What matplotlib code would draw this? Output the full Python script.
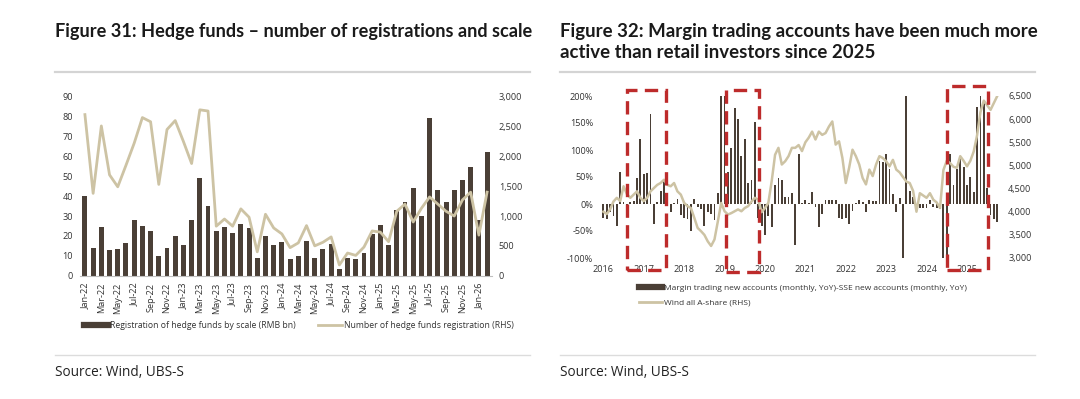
import matplotlib
matplotlib.use('Agg')
import matplotlib.pyplot as plt
from matplotlib.lines import Line2D
from matplotlib.patches import Rectangle
from matplotlib.ticker import FuncFormatter
import numpy as np
import pandas as pd

plt.rcParams['font.family'] = ['Open Sans', 'DejaVu Sans']

# Figure 31 data (monthly, Jan-22 .. Feb-26)
hf_months = pd.date_range('2022-01-01', periods=50, freq='MS')
hf_scale = [40, 14, 24.5, 13, 13.5, 16.5, 28, 25, 22.5, 10,
            14, 20, 15.5, 28, 49, 35, 22.5, 24.5, 21.5, 26,
            24, 9, 20, 15.5, 17, 8.5, 10, 17.5, 9, 13.5,
            16, 3.5, 9, 8.5, 11.5, 21, 25.5, 15.5, 33, 37,
            44, 30, 79.5, 43, 37, 43, 48, 54.5, 28, 62]
hf_count = [2700, 1380, 2510, 1690, 1490, 1850, 2220, 2650, 2580, 1530,
            2450, 2600, 2250, 1880, 2780, 2760, 830, 950, 830, 1120,
            980, 400, 1030, 800, 700, 470, 550, 840, 500, 560,
            650, 180, 380, 340, 480, 750, 730, 570, 1080, 1200,
            900, 1130, 1320, 1200, 1080, 1000, 1270, 1400, 680, 1400]

# Figure 32 data (monthly from Jan-2016)
margin_yoy = [-25, -27, -15, -22, -40, 60, 3, -20, 3, 5,
              48, 120, 55, 57, 167, -37, 4, 25, 42, 10,
              -15, 1, 10, -20, -25, -27, -50, 10, -5, -10,
              -40, -15, -18, -30, 20, 200, 200, 60, 103, 178,
              158, 88, 120, 38, 45, 152, -25, -40, -58, -22,
              -42, 35, 48, 45, 13, 13, 20, -75, 92, 1,
              8, 1, 23, -5, -42, -18, 7, 7, 7, 7,
              -25, -27, -25, -37, -13, 2, 8, 3, -15, 7,
              5, 5, 80, 78, 92, 65, 18, -15, 12, -100,
              200, 25, 13, -10, -8, -8, -8, 8, -5, -8,
              -10, -100, -100, 92, 35, 65, 85, 68, 35, 50,
              22, 180, 200, 192, 30, -20, -28, -33]
wind_a = [4000, 3950, 4050, 4220, 4300, 4230, 4550, 4380, 4300, 4370,
          4440, 4300, 4230, 4300, 4440, 4510, 4580, 4620, 4690, 4580,
          4550, 4620, 4440, 4370, 4190, 4120, 4080, 3870, 3650, 3580,
          3500, 3360, 3260, 3400, 3790, 4190, 4010, 3940, 3970, 4010,
          4050, 4010, 4080, 4120, 4220, 4300, 4260, 3990, 4080, 4190,
          4660, 5230, 5380, 5020, 5090, 5200, 5380, 5380, 5440, 5310,
          5500, 5600, 5730, 5560, 5730, 5660, 5700, 5840, 5950, 5450,
          5520, 5160, 4620, 4950, 5340, 5200, 5020, 4730, 4590, 4910,
          4770, 5020, 5200, 5160, 5090, 4980, 5120, 4910, 4850, 4750,
          4650, 4620, 4450, 4000, 4400, 4350, 4300, 4400, 4260, 4200,
          4080, 4900, 5100, 5050, 4970, 4950, 5200, 5100, 4980, 5100,
          5300, 5650, 6150, 6400, 6300, 6200, 6350, 6500]
years = ['2016', '2017', '2018', '2019', '2020', '2021', '2022', '2023', '2024', '2025']
# highlighted periods (month index start, end)
boxes = [(7.0, 18.6, -123, 211), (36.5, 46.1, -125, 211), (102.0, 114.2, -123, 219)]

bar_c = '#4a3f36'
line_c = '#cdc3a4'
txt_c = '#333333'
W, H = 1080, 399

fig = plt.figure(figsize=(10.8, 3.99), dpi=100)
renderer = fig.canvas.get_renderer()


def fit_title(x, y, s, width_px):
    # squeeze the bold title to the width it takes in the original
    t = fig.text(x / W, 1 - y / H, s, family=['Lato', 'DejaVu Sans'], weight='bold',
                 size=11, va='center', color='#1a1a1a')
    w = t.get_window_extent(renderer).width
    t.set_size(11 * width_px / w)
    return t


fit_title(55, 32, 'Figure 31: Hedge funds \u2013 number of registrations and scale', 475)
t32 = fit_title(560, 32, 'Figure 32: Margin trading accounts have been much more', 475)
fig.text(560 / W, 1 - 52 / H, 'active than retail investors since 2025',
         family=['Lato', 'DejaVu Sans'], weight='bold', size=t32.get_size(),
         va='center', color='#1a1a1a')
for x0, x1 in [(55, 530), (560, 1035)]:
    fig.add_artist(Line2D([x0 / W, x1 / W], [1 - 72 / H] * 2, color='#d4d4d4', lw=1.6))
    fig.add_artist(Line2D([x0 / W, x1 / W], [1 - 355 / H] * 2, color='#dcdcdc', lw=1))
    fig.text(x0 / W, 1 - 372 / H, 'Source: Wind, UBS-S', size=9.8, va='center', color='#222222')

# ---- Figure 31
ax1 = fig.add_axes([80 / W, (H - 275.7) / H, 412 / W, 179 / H])
x = np.arange(len(hf_scale))
ax1.bar(x, hf_scale, width=0.6, color=bar_c)
ax1.set_xlim(-0.6, len(hf_scale) - 0.4)
ax1.set_ylim(0, 90)
ax1.set_yticks(range(0, 91, 10))
ax1.set_xticks(x[::2])
ax1.set_xticklabels([d.strftime('%b-%y') for d in hf_months[::2]], rotation=90)
ax1r = ax1.twinx()
ax1r.plot(x, hf_count, color=line_c, lw=2)
ax1r.set_ylim(0, 3000)
ax1r.set_yticks(range(0, 3001, 500))
ax1r.yaxis.set_major_formatter(FuncFormatter(lambda v, p: f'{v:,.0f}'))
for a in (ax1, ax1r):
    for s in a.spines.values():
        s.set_visible(False)
    a.tick_params(length=0, labelsize=6.6, colors=txt_c)
ax1.spines['bottom'].set_visible(True)
ax1.spines['bottom'].set_color('#bfbfbf')
ax1.tick_params(axis='y', pad=5)
ax1.tick_params(axis='x', pad=5)
ax1r.tick_params(axis='y', pad=5)

fig.legend([Line2D([], [], color=bar_c, lw=4.5), Line2D([], [], color=line_c, lw=2)],
           ['Registration of hedge funds by scale (RMB bn)', 'Number of hedge funds registration (RHS)'],
           loc='center left', bbox_to_anchor=(76 / W, 1 - 326 / H), ncol=2, frameon=False,
           fontsize=6.2, handlelength=2.8, handletextpad=0.2, columnspacing=2.6, labelcolor=txt_c)

# ---- Figure 32
ax2 = fig.add_axes([600 / W, (H - 258) / H, 404 / W, 162 / H])
m = np.arange(len(margin_yoy))
ax2.bar(m, margin_yoy, width=0.55, color=bar_c)
ax2.set_xlim(-1, len(margin_yoy) + 1)
ax2.set_ylim(-100, 200)
ax2.set_yticks(range(-100, 201, 50))
ax2.yaxis.set_major_formatter(FuncFormatter(lambda v, p: f'{v:.0f}%'))
ax2.set_xticks(np.arange(len(years)) * 12)
ax2.set_xticklabels(years)
ax2r = ax2.twinx()
ax2r.plot(np.arange(len(wind_a)), wind_a, color=line_c, lw=1.8)
ax2r.set_ylim(3000, 6500)
ax2r.set_yticks(range(3000, 6501, 500))
ax2r.yaxis.set_major_formatter(FuncFormatter(lambda v, p: f'{v:,.0f}'))
for a in (ax2, ax2r):
    for s in a.spines.values():
        s.set_visible(False)
    a.tick_params(length=0, labelsize=6.6, colors=txt_c)
ax2.tick_params(axis='y', pad=5)
ax2.tick_params(axis='x', pad=5)
ax2r.tick_params(axis='y', pad=3)

for b0, b1, y0, y1 in boxes:
    ax2r.add_patch(Rectangle((b0, y0), b1 - b0, y1 - y0, transform=ax2.transData,
                             fill=False, edgecolor='#bd2b2b', lw=2.4,
                             linestyle=(0, (4, 2.2)), clip_on=False, zorder=10))

fig.legend([Line2D([], [], color=bar_c, lw=4.5), Line2D([], [], color=line_c, lw=2)],
           ['Margin trading new accounts (monthly, YoY)-SSE new accounts (monthly, YoY)',
            'Wind all A-share (RHS)'],
           loc='upper left', bbox_to_anchor=(631 / W, 1 - 277 / H), ncol=1, frameon=False,
           fontsize=6.0, handlelength=2.8, handletextpad=0.2, labelspacing=0.75, labelcolor=txt_c)

fig.savefig('out.png', dpi=100)
